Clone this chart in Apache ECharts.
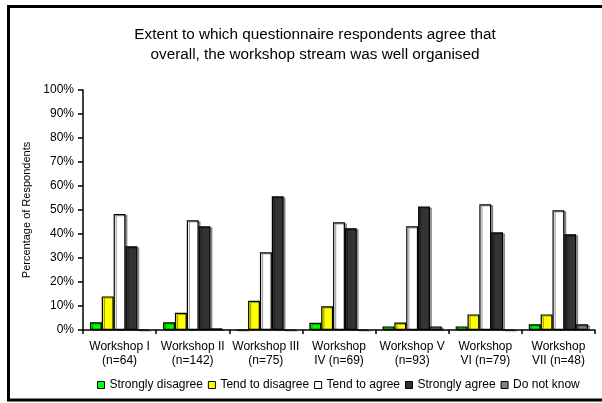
<!DOCTYPE html>
<html><head><meta charset="utf-8">
<script src="https://cdn.jsdelivr.net/npm/echarts@6/dist/echarts.min.js"></script>
<style>html,body{margin:0;padding:0;background:#fff}#c{width:602px;height:403px}</style>
</head><body><div id="c"></div>
<script>
const categories = ["Workshop I\n(n=64)","Workshop II\n(n=142)","Workshop III\n(n=75)","Workshop\nIV (n=69)","Workshop V\n(n=93)","Workshop\nVI (n=79)","Workshop\nVII (n=48)"];
const seriesNames = ["Strongly disagree","Tend to disagree","Tend to agree","Strongly agree","Do not know"];
const stronglyDisagree = [3.2, 3.2, 0, 3.0, 1.5, 1.5, 2.4];
const tendToDisagree = [14.0, 7.2, 12.2, 9.9, 3.1, 6.5, 6.5];
const tendToAgree = [48.3, 45.7, 32.4, 44.9, 43.2, 52.4, 49.9];
const stronglyAgree = [34.9, 43.2, 55.7, 42.4, 51.5, 40.7, 39.9];
const doNotKnow = [0, 0.7, 0, 0, 1.5, 0, 2.4];
const colors = ["#00ff00","#ffff00","#ffffff","#333333","#808080"];
const values = [stronglyDisagree, tendToDisagree, tendToAgree, stronglyAgree, doNotKnow];

const font = "Liberation Sans, Arial, sans-serif";
const chart = echarts.init(document.getElementById('c'), null, {renderer:'canvas'});
chart.setOption({
  animation:false,
  title:{text:"Extent to which questionnaire respondents agree that\noverall, the workshop stream was well organised",
    left:310, textAlign:'center', top:20,
    textStyle:{fontFamily:font,fontSize:15.3,fontWeight:'normal',color:'#000',lineHeight:20}},
  legend:{data:seriesNames, bottom:7, left:92, itemWidth:7, itemHeight:7, itemGap:5,
    icon:'rect', textStyle:{fontFamily:font,fontSize:12,color:'#000',padding:[0,0,0,0]},
    itemStyle:{borderColor:'#000',borderWidth:1}},
  grid:{left:83,right:7,top:90,bottom:73},
  xAxis:{type:'category',data:categories,
    axisLine:{lineStyle:{color:'#000',width:1.5}},
    axisTick:{show:true,length:4,lineStyle:{color:'#000',width:1.5}},
    axisLabel:{fontFamily:font,fontSize:12,color:'#000',interval:0,margin:10,lineHeight:14}},
  yAxis:{type:'value',min:0,max:100,interval:10,
    name:'Percentage of Respondents',nameLocation:'middle',nameGap:41,
    nameTextStyle:{fontFamily:font,fontSize:11,color:'#000'},
    axisLine:{show:true,lineStyle:{color:'#000',width:1.5}},
    axisTick:{show:true,length:5,lineStyle:{color:'#000',width:1.5}},
    splitLine:{show:false},
    axisLabel:{formatter:'{value}%',fontFamily:font,fontSize:12,color:'#000',margin:9}},
  graphic:[{type:'rect',shape:{x:8.5,y:6.5,width:600,height:393.5},
    style:{fill:'none',stroke:'#000',lineWidth:3},z:100}],
  series: seriesNames.map((n,i)=>({
    name:n,type:'bar',data:values[i],barGap:'0%',barCategoryGap:'19%',
    itemStyle:{color:colors[i],borderColor:'#000',borderWidth:1.2,
      shadowColor:'rgba(0,0,0,0.35)',shadowOffsetX:2,shadowOffsetY:1,shadowBlur:0}
  }))
});
</script></body></html>
